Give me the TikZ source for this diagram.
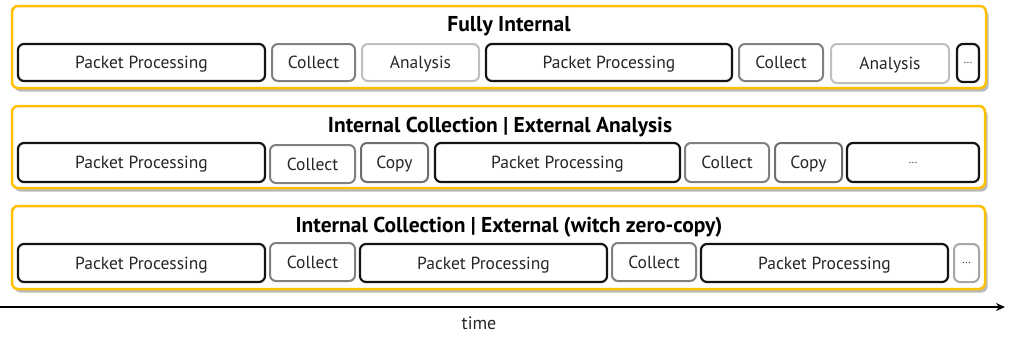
\documentclass[tikz,border=0pt]{standalone}
\usepackage{fontspec}
\setmainfont{PT Sans}
\usetikzlibrary{shadows,arrows.meta}
\definecolor{panelyellow}{HTML}{FFC000}
\definecolor{txt}{HTML}{262626}
\definecolor{collectgray}{HTML}{808080}
\definecolor{copygray}{HTML}{6E6E6E}
\definecolor{analysisgray}{HTML}{BFBFBF}
\definecolor{dotsgray}{HTML}{A6A6A6}
\tikzset{
  panel/.style={draw=panelyellow, line width=2.5pt, rounded corners=6pt, fill=white,
    drop shadow={shadow xshift=2.5pt, shadow yshift=-3.5pt, opacity=0.45, fill=black!60}},
  paneltitle/.style={font=\fontsize{21.5}{24}\selectfont\bfseries, text=black},
  seg/.style={rounded corners=6pt, fill=white, inner sep=0pt, text=txt,
    text depth=0pt, font=\fontsize{17.5}{20}\selectfont},
  pp/.style={seg, draw=black!92, line width=2.2pt, minimum height=37pt},
  collect/.style={seg, draw=collectgray, line width=2pt, minimum height=37pt},
  copybox/.style={seg, draw=copygray, line width=2pt, minimum height=37pt},
  analysis/.style={seg, draw=analysisgray, line width=2pt, minimum height=37pt},
  dots/.style={seg, font=\fontsize{11}{12}\selectfont, text depth=-8pt},
}
\begin{document}
\begin{tikzpicture}[x=1pt, y=-1pt]
\useasboundingbox (0,0) rectangle (1011,351);

% three timeline panels
\node[panel, minimum width=974pt, minimum height=82pt] (p1) at (499,47) {};
\node[panel, minimum width=973pt, minimum height=82pt] (p2) at (498.5,147) {};
\node[panel, minimum width=973pt, minimum height=83pt] (p3) at (498.5,247.5) {};

\node[paneltitle] (t1) at (509,26) {Fully Internal};
\node[paneltitle] (t2) at (500,127) {Internal Collection | External Analysis};
\node[paneltitle] (t3) at (509,227) {Internal Collection | External (witch zero-copy)};

% fully internal
\node[pp, minimum width=247pt] (a1) at (141.5,62.5) {Packet Processing};
\node[collect, minimum width=83pt] (a2) at (313.5,62.5) {Collect};
\node[analysis, minimum width=117pt] (a3) at (420.5,62.5) {Analysis};
\node[pp, minimum width=246pt] (a4) at (609,62.5) {Packet Processing};
\node[collect, minimum width=84pt] (a5) at (781,62.5) {Collect};
\node[analysis, minimum width=118pt, minimum height=39pt] (a6) at (890,63.5) {Analysis};
\node[pp, dots, minimum width=22pt, minimum height=38pt] (a7) at (968,63) {...};

% internal collection, external analysis
\node[pp, minimum width=247pt, minimum height=39pt] (b1) at (141.5,162.5) {Packet Processing};
\node[collect, minimum width=85pt, minimum height=38pt] (b2) at (312.5,164) {Collect};
\node[copybox, minimum width=67pt, minimum height=39pt] (b3) at (394.5,162.5) {Copy};
\node[pp, minimum width=245pt, minimum height=39pt] (b4) at (557.5,162.5) {Packet Processing};
\node[collect, minimum width=84pt, minimum height=39pt] (b5) at (727,162.5) {Collect};
\node[copybox, minimum width=67pt, minimum height=39pt] (b6) at (808.5,162.5) {Copy};
\node[pp, dots, minimum width=132pt, minimum height=39pt] (b7) at (913,162.5) {...};

% internal collection, external zero-copy
\node[pp, minimum width=247pt, minimum height=38pt] (c1) at (141.5,263) {Packet Processing};
\node[collect, minimum width=85pt, minimum height=38pt] (c2) at (312.5,262) {Collect};
\node[pp, minimum width=247pt, minimum height=38pt] (c3) at (483.5,263) {Packet Processing};
\node[collect, minimum width=84pt, minimum height=38pt] (c4) at (654,262) {Collect};
\node[pp, minimum width=247pt, minimum height=38pt] (c5) at (824.5,263) {Packet Processing};
\node[collect, dots, draw=dotsgray, minimum width=25pt, minimum height=38pt] (c6) at (966.5,263) {...};

% time axis
\coordinate (t0) at (0,307);
\coordinate (tend) at (1005,307);
\draw[line width=2.5pt, -{Stealth[length=9pt,width=8pt]},
  drop shadow={shadow xshift=1.5pt, shadow yshift=-3pt, opacity=0.3}] (t0) -- (tend);
\node[font=\fontsize{18}{20}\selectfont, text=txt] (tl) at (479,323) {time};
\end{tikzpicture}
\end{document}
